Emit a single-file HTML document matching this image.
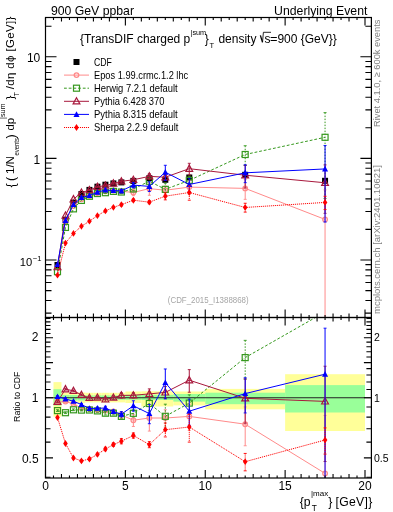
<!DOCTYPE html><html><head><meta charset="utf-8"><style>html,body{margin:0;padding:0;background:#fff;}svg{display:block;will-change:transform;}</style></head><body><svg width="393" height="512" viewBox="0 0 393 512" font-family='"Liberation Sans", sans-serif'><rect width="393" height="512" fill="#fff"/><rect x="53.49" y="382.10" width="7.99" height="34.60" fill="#ffff99"/><rect x="61.48" y="392.50" width="7.99" height="10.50" fill="#ffff99"/><rect x="69.46" y="392.50" width="7.99" height="10.50" fill="#ffff99"/><rect x="77.45" y="392.50" width="7.99" height="10.50" fill="#ffff99"/><rect x="85.44" y="392.80" width="7.99" height="9.60" fill="#ffff99"/><rect x="93.42" y="392.80" width="7.99" height="9.60" fill="#ffff99"/><rect x="101.41" y="392.80" width="7.99" height="9.60" fill="#ffff99"/><rect x="109.40" y="392.80" width="7.99" height="9.60" fill="#ffff99"/><rect x="117.39" y="392.80" width="7.99" height="9.60" fill="#ffff99"/><rect x="125.38" y="391.50" width="15.97" height="11.50" fill="#ffff99"/><rect x="141.35" y="391.30" width="15.97" height="15.20" fill="#ffff99"/><rect x="157.32" y="391.30" width="15.98" height="15.20" fill="#ffff99"/><rect x="173.30" y="391.50" width="31.95" height="13.90" fill="#ffff99"/><rect x="205.25" y="388.90" width="79.88" height="20.40" fill="#ffff99"/><rect x="285.12" y="374.20" width="79.88" height="56.80" fill="#ffff99"/><rect x="53.49" y="389.20" width="7.99" height="16.30" fill="#99ff99"/><rect x="61.48" y="395.00" width="7.99" height="5.50" fill="#99ff99"/><rect x="69.46" y="395.00" width="7.99" height="5.50" fill="#99ff99"/><rect x="77.45" y="395.00" width="7.99" height="5.50" fill="#99ff99"/><rect x="85.44" y="395.40" width="7.99" height="4.40" fill="#99ff99"/><rect x="93.42" y="395.40" width="7.99" height="4.40" fill="#99ff99"/><rect x="101.41" y="395.40" width="7.99" height="4.40" fill="#99ff99"/><rect x="109.40" y="395.40" width="7.99" height="4.40" fill="#99ff99"/><rect x="117.39" y="395.40" width="7.99" height="4.40" fill="#99ff99"/><rect x="125.38" y="394.80" width="15.97" height="5.00" fill="#99ff99"/><rect x="141.35" y="394.80" width="15.97" height="5.20" fill="#99ff99"/><rect x="157.32" y="394.80" width="15.98" height="5.20" fill="#99ff99"/><rect x="173.30" y="394.00" width="31.95" height="7.60" fill="#99ff99"/><rect x="205.25" y="392.70" width="79.88" height="11.50" fill="#99ff99"/><rect x="285.12" y="385.10" width="79.88" height="27.40" fill="#99ff99"/><line x1="45.5" y1="397.7" x2="371.4" y2="397.7" stroke="#222" stroke-width="1.1"/><defs><clipPath id="cm"><rect x="45.5" y="17.5" width="325.9" height="300"/></clipPath><clipPath id="cr"><rect x="45.5" y="317.5" width="325.9" height="160.5"/></clipPath></defs><g clip-path="url(#cm)"><rect x="54.48" y="262.00" width="6" height="6" fill="#000"/><rect x="62.47" y="216.70" width="6" height="6" fill="#000"/><rect x="70.46" y="199.60" width="6" height="6" fill="#000"/><rect x="78.44" y="191.00" width="6" height="6" fill="#000"/><rect x="86.43" y="186.90" width="6" height="6" fill="#000"/><rect x="94.42" y="183.70" width="6" height="6" fill="#000"/><rect x="102.41" y="181.70" width="6" height="6" fill="#000"/><rect x="110.39" y="180.40" width="6" height="6" fill="#000"/><rect x="118.38" y="179.40" width="6" height="6" fill="#000"/><rect x="130.36" y="177.90" width="6" height="6" fill="#000"/><rect x="146.34" y="175.20" width="6" height="6" fill="#000"/><rect x="162.31" y="176.80" width="6" height="6" fill="#000"/><rect x="186.28" y="174.50" width="6" height="6" fill="#000"/><rect x="242.19" y="171.80" width="6" height="6" fill="#000"/><rect x="322.06" y="177.80" width="6" height="6" fill="#000"/><path d="M57.48,267.29 L65.47,221.74 L73.46,205.91 L81.44,199.34 L89.43,195.75 L97.42,193.06 L105.41,191.31 L113.39,190.52 L121.38,191.30 L133.36,192.45 L149.34,188.63 L165.31,190.23 L189.28,187.12 L245.19,188.38 L325.06,219.42" fill="none" stroke="#ff8a8a" stroke-width="1"/><line x1="89.43" y1="195.09" x2="89.43" y2="196.42" stroke="#ff8a8a" stroke-width="1"/><line x1="87.93" y1="195.09" x2="90.93" y2="195.09" stroke="#ff8a8a" stroke-width="0.9"/><line x1="87.93" y1="196.42" x2="90.93" y2="196.42" stroke="#ff8a8a" stroke-width="0.9"/><line x1="97.42" y1="192.40" x2="97.42" y2="193.73" stroke="#ff8a8a" stroke-width="1"/><line x1="95.92" y1="192.40" x2="98.92" y2="192.40" stroke="#ff8a8a" stroke-width="0.9"/><line x1="95.92" y1="193.73" x2="98.92" y2="193.73" stroke="#ff8a8a" stroke-width="0.9"/><line x1="105.41" y1="190.44" x2="105.41" y2="192.21" stroke="#ff8a8a" stroke-width="1"/><line x1="103.91" y1="190.44" x2="106.91" y2="190.44" stroke="#ff8a8a" stroke-width="0.9"/><line x1="103.91" y1="192.21" x2="106.91" y2="192.21" stroke="#ff8a8a" stroke-width="0.9"/><line x1="113.39" y1="189.65" x2="113.39" y2="191.41" stroke="#ff8a8a" stroke-width="1"/><line x1="111.89" y1="189.65" x2="114.89" y2="189.65" stroke="#ff8a8a" stroke-width="0.9"/><line x1="111.89" y1="191.41" x2="114.89" y2="191.41" stroke="#ff8a8a" stroke-width="0.9"/><line x1="121.38" y1="189.57" x2="121.38" y2="193.10" stroke="#ff8a8a" stroke-width="1"/><line x1="119.88" y1="189.57" x2="122.88" y2="189.57" stroke="#ff8a8a" stroke-width="0.9"/><line x1="119.88" y1="193.10" x2="122.88" y2="193.10" stroke="#ff8a8a" stroke-width="0.9"/><line x1="133.36" y1="189.46" x2="133.36" y2="195.65" stroke="#ff8a8a" stroke-width="1"/><line x1="131.86" y1="189.46" x2="134.86" y2="189.46" stroke="#ff8a8a" stroke-width="0.9"/><line x1="131.86" y1="195.65" x2="134.86" y2="195.65" stroke="#ff8a8a" stroke-width="0.9"/><line x1="149.34" y1="182.85" x2="149.34" y2="195.28" stroke="#ff8a8a" stroke-width="1"/><line x1="147.84" y1="182.85" x2="150.84" y2="182.85" stroke="#ff8a8a" stroke-width="0.9"/><line x1="147.84" y1="195.28" x2="150.84" y2="195.28" stroke="#ff8a8a" stroke-width="0.9"/><line x1="165.31" y1="186.02" x2="165.31" y2="194.88" stroke="#ff8a8a" stroke-width="1"/><line x1="163.81" y1="186.02" x2="166.81" y2="186.02" stroke="#ff8a8a" stroke-width="0.9"/><line x1="163.81" y1="194.88" x2="166.81" y2="194.88" stroke="#ff8a8a" stroke-width="0.9"/><line x1="189.28" y1="180.95" x2="189.28" y2="194.29" stroke="#ff8a8a" stroke-width="1"/><line x1="187.78" y1="180.95" x2="190.78" y2="180.95" stroke="#ff8a8a" stroke-width="0.9"/><line x1="187.78" y1="194.29" x2="190.78" y2="194.29" stroke="#ff8a8a" stroke-width="0.9"/><line x1="245.19" y1="179.61" x2="245.19" y2="199.35" stroke="#ff8a8a" stroke-width="1"/><line x1="243.69" y1="179.61" x2="246.69" y2="179.61" stroke="#ff8a8a" stroke-width="0.9"/><line x1="243.69" y1="199.35" x2="246.69" y2="199.35" stroke="#ff8a8a" stroke-width="0.9"/><line x1="325.06" y1="189.95" x2="325.06" y2="317.50" stroke="#ff8a8a" stroke-width="1"/><line x1="323.56" y1="189.95" x2="326.56" y2="189.95" stroke="#ff8a8a" stroke-width="0.9"/><circle cx="57.48" cy="267.29" r="2.3" fill="none" stroke="#ff8a8a" stroke-width="1.3"/><circle cx="65.47" cy="221.74" r="2.3" fill="none" stroke="#ff8a8a" stroke-width="1.3"/><circle cx="73.46" cy="205.91" r="2.3" fill="none" stroke="#ff8a8a" stroke-width="1.3"/><circle cx="81.44" cy="199.34" r="2.3" fill="none" stroke="#ff8a8a" stroke-width="1.3"/><circle cx="89.43" cy="195.75" r="2.3" fill="none" stroke="#ff8a8a" stroke-width="1.3"/><circle cx="97.42" cy="193.06" r="2.3" fill="none" stroke="#ff8a8a" stroke-width="1.3"/><circle cx="105.41" cy="191.31" r="2.3" fill="none" stroke="#ff8a8a" stroke-width="1.3"/><circle cx="113.39" cy="190.52" r="2.3" fill="none" stroke="#ff8a8a" stroke-width="1.3"/><circle cx="121.38" cy="191.30" r="2.3" fill="none" stroke="#ff8a8a" stroke-width="1.3"/><circle cx="133.36" cy="192.45" r="2.3" fill="none" stroke="#ff8a8a" stroke-width="1.3"/><circle cx="149.34" cy="188.63" r="2.3" fill="none" stroke="#ff8a8a" stroke-width="1.3"/><circle cx="165.31" cy="190.23" r="2.3" fill="none" stroke="#ff8a8a" stroke-width="1.3"/><circle cx="189.28" cy="187.12" r="2.3" fill="none" stroke="#ff8a8a" stroke-width="1.3"/><circle cx="245.19" cy="188.38" r="2.3" fill="none" stroke="#ff8a8a" stroke-width="1.3"/><circle cx="325.06" cy="219.42" r="2.3" fill="none" stroke="#ff8a8a" stroke-width="1.3"/><path d="M57.48,271.66 L65.47,227.43 L73.46,208.86 L81.44,200.41 L89.43,196.26 L97.42,193.52 L105.41,192.69 L113.39,191.39 L121.38,192.02 L133.36,188.94 L149.34,181.25 L165.31,189.36 L189.28,180.35 L245.19,154.50 L325.06,137.30" fill="none" stroke="#36981e" stroke-width="1" stroke-dasharray="2.8,1.9"/><line x1="89.43" y1="195.60" x2="89.43" y2="196.93" stroke="#36981e" stroke-width="1" stroke-dasharray="1.5,1.5"/><line x1="87.93" y1="195.60" x2="90.93" y2="195.60" stroke="#36981e" stroke-width="0.9"/><line x1="87.93" y1="196.93" x2="90.93" y2="196.93" stroke="#36981e" stroke-width="0.9"/><line x1="97.42" y1="192.86" x2="97.42" y2="194.18" stroke="#36981e" stroke-width="1" stroke-dasharray="1.5,1.5"/><line x1="95.92" y1="192.86" x2="98.92" y2="192.86" stroke="#36981e" stroke-width="0.9"/><line x1="95.92" y1="194.18" x2="98.92" y2="194.18" stroke="#36981e" stroke-width="0.9"/><line x1="105.41" y1="191.81" x2="105.41" y2="193.58" stroke="#36981e" stroke-width="1" stroke-dasharray="1.5,1.5"/><line x1="103.91" y1="191.81" x2="106.91" y2="191.81" stroke="#36981e" stroke-width="0.9"/><line x1="103.91" y1="193.58" x2="106.91" y2="193.58" stroke="#36981e" stroke-width="0.9"/><line x1="113.39" y1="190.51" x2="113.39" y2="192.28" stroke="#36981e" stroke-width="1" stroke-dasharray="1.5,1.5"/><line x1="111.89" y1="190.51" x2="114.89" y2="190.51" stroke="#36981e" stroke-width="0.9"/><line x1="111.89" y1="192.28" x2="114.89" y2="192.28" stroke="#36981e" stroke-width="0.9"/><line x1="121.38" y1="190.71" x2="121.38" y2="193.36" stroke="#36981e" stroke-width="1" stroke-dasharray="1.5,1.5"/><line x1="119.88" y1="190.71" x2="122.88" y2="190.71" stroke="#36981e" stroke-width="0.9"/><line x1="119.88" y1="193.36" x2="122.88" y2="193.36" stroke="#36981e" stroke-width="0.9"/><line x1="133.36" y1="187.21" x2="133.36" y2="190.74" stroke="#36981e" stroke-width="1" stroke-dasharray="1.5,1.5"/><line x1="131.86" y1="187.21" x2="134.86" y2="187.21" stroke="#36981e" stroke-width="0.9"/><line x1="131.86" y1="190.74" x2="134.86" y2="190.74" stroke="#36981e" stroke-width="0.9"/><line x1="149.34" y1="177.86" x2="149.34" y2="184.93" stroke="#36981e" stroke-width="1" stroke-dasharray="1.5,1.5"/><line x1="147.84" y1="177.86" x2="150.84" y2="177.86" stroke="#36981e" stroke-width="0.9"/><line x1="147.84" y1="184.93" x2="150.84" y2="184.93" stroke="#36981e" stroke-width="0.9"/><line x1="165.31" y1="183.20" x2="165.31" y2="196.54" stroke="#36981e" stroke-width="1" stroke-dasharray="1.5,1.5"/><line x1="163.81" y1="183.20" x2="166.81" y2="183.20" stroke="#36981e" stroke-width="0.9"/><line x1="163.81" y1="196.54" x2="166.81" y2="196.54" stroke="#36981e" stroke-width="0.9"/><line x1="189.28" y1="176.14" x2="189.28" y2="185.00" stroke="#36981e" stroke-width="1" stroke-dasharray="1.5,1.5"/><line x1="187.78" y1="176.14" x2="190.78" y2="176.14" stroke="#36981e" stroke-width="0.9"/><line x1="187.78" y1="185.00" x2="190.78" y2="185.00" stroke="#36981e" stroke-width="0.9"/><line x1="245.19" y1="145.73" x2="245.19" y2="165.46" stroke="#36981e" stroke-width="1" stroke-dasharray="1.5,1.5"/><line x1="243.69" y1="145.73" x2="246.69" y2="145.73" stroke="#36981e" stroke-width="0.9"/><line x1="243.69" y1="165.46" x2="246.69" y2="165.46" stroke="#36981e" stroke-width="0.9"/><line x1="325.06" y1="112.61" x2="325.06" y2="198.47" stroke="#36981e" stroke-width="1" stroke-dasharray="1.5,1.5"/><line x1="323.56" y1="112.61" x2="326.56" y2="112.61" stroke="#36981e" stroke-width="0.9"/><line x1="323.56" y1="198.47" x2="326.56" y2="198.47" stroke="#36981e" stroke-width="0.9"/><rect x="54.48" y="268.66" width="6" height="6" fill="none" stroke="#36981e" stroke-width="1.2"/><rect x="62.47" y="224.43" width="6" height="6" fill="none" stroke="#36981e" stroke-width="1.2"/><rect x="70.46" y="205.86" width="6" height="6" fill="none" stroke="#36981e" stroke-width="1.2"/><rect x="78.44" y="197.41" width="6" height="6" fill="none" stroke="#36981e" stroke-width="1.2"/><rect x="86.43" y="193.26" width="6" height="6" fill="none" stroke="#36981e" stroke-width="1.2"/><rect x="94.42" y="190.52" width="6" height="6" fill="none" stroke="#36981e" stroke-width="1.2"/><rect x="102.41" y="189.69" width="6" height="6" fill="none" stroke="#36981e" stroke-width="1.2"/><rect x="110.39" y="188.39" width="6" height="6" fill="none" stroke="#36981e" stroke-width="1.2"/><rect x="118.38" y="189.02" width="6" height="6" fill="none" stroke="#36981e" stroke-width="1.2"/><rect x="130.36" y="185.94" width="6" height="6" fill="none" stroke="#36981e" stroke-width="1.2"/><rect x="146.34" y="178.25" width="6" height="6" fill="none" stroke="#36981e" stroke-width="1.2"/><rect x="162.31" y="186.36" width="6" height="6" fill="none" stroke="#36981e" stroke-width="1.2"/><rect x="186.28" y="177.35" width="6" height="6" fill="none" stroke="#36981e" stroke-width="1.2"/><rect x="242.19" y="151.50" width="6" height="6" fill="none" stroke="#36981e" stroke-width="1.2"/><rect x="322.06" y="134.30" width="6" height="6" fill="none" stroke="#36981e" stroke-width="1.2"/><path d="M57.48,267.14 L65.47,215.48 L73.46,199.19 L81.44,192.63 L89.43,190.10 L97.42,186.75 L105.41,185.67 L113.39,183.45 L121.38,181.33 L133.36,179.78 L149.34,176.37 L165.31,177.21 L189.28,168.70 L245.19,175.21 L325.06,182.78" fill="none" stroke="#a8183c" stroke-width="1"/><line x1="89.43" y1="189.45" x2="89.43" y2="190.77" stroke="#a8183c" stroke-width="1"/><line x1="87.93" y1="189.45" x2="90.93" y2="189.45" stroke="#a8183c" stroke-width="0.9"/><line x1="87.93" y1="190.77" x2="90.93" y2="190.77" stroke="#a8183c" stroke-width="0.9"/><line x1="97.42" y1="186.09" x2="97.42" y2="187.42" stroke="#a8183c" stroke-width="1"/><line x1="95.92" y1="186.09" x2="98.92" y2="186.09" stroke="#a8183c" stroke-width="0.9"/><line x1="95.92" y1="187.42" x2="98.92" y2="187.42" stroke="#a8183c" stroke-width="0.9"/><line x1="105.41" y1="184.79" x2="105.41" y2="186.56" stroke="#a8183c" stroke-width="1"/><line x1="103.91" y1="184.79" x2="106.91" y2="184.79" stroke="#a8183c" stroke-width="0.9"/><line x1="103.91" y1="186.56" x2="106.91" y2="186.56" stroke="#a8183c" stroke-width="0.9"/><line x1="113.39" y1="182.58" x2="113.39" y2="184.34" stroke="#a8183c" stroke-width="1"/><line x1="111.89" y1="182.58" x2="114.89" y2="182.58" stroke="#a8183c" stroke-width="0.9"/><line x1="111.89" y1="184.34" x2="114.89" y2="184.34" stroke="#a8183c" stroke-width="0.9"/><line x1="121.38" y1="180.03" x2="121.38" y2="182.68" stroke="#a8183c" stroke-width="1"/><line x1="119.88" y1="180.03" x2="122.88" y2="180.03" stroke="#a8183c" stroke-width="0.9"/><line x1="119.88" y1="182.68" x2="122.88" y2="182.68" stroke="#a8183c" stroke-width="0.9"/><line x1="133.36" y1="178.48" x2="133.36" y2="181.12" stroke="#a8183c" stroke-width="1"/><line x1="131.86" y1="178.48" x2="134.86" y2="178.48" stroke="#a8183c" stroke-width="0.9"/><line x1="131.86" y1="181.12" x2="134.86" y2="181.12" stroke="#a8183c" stroke-width="0.9"/><line x1="149.34" y1="173.80" x2="149.34" y2="179.10" stroke="#a8183c" stroke-width="1"/><line x1="147.84" y1="173.80" x2="150.84" y2="173.80" stroke="#a8183c" stroke-width="0.9"/><line x1="147.84" y1="179.10" x2="150.84" y2="179.10" stroke="#a8183c" stroke-width="0.9"/><line x1="165.31" y1="174.22" x2="165.31" y2="180.41" stroke="#a8183c" stroke-width="1"/><line x1="163.81" y1="174.22" x2="166.81" y2="174.22" stroke="#a8183c" stroke-width="0.9"/><line x1="163.81" y1="180.41" x2="166.81" y2="180.41" stroke="#a8183c" stroke-width="0.9"/><line x1="189.28" y1="163.31" x2="189.28" y2="174.84" stroke="#a8183c" stroke-width="1"/><line x1="187.78" y1="163.31" x2="190.78" y2="163.31" stroke="#a8183c" stroke-width="0.9"/><line x1="187.78" y1="174.84" x2="190.78" y2="174.84" stroke="#a8183c" stroke-width="0.9"/><line x1="245.19" y1="165.36" x2="245.19" y2="187.90" stroke="#a8183c" stroke-width="1"/><line x1="243.69" y1="165.36" x2="246.69" y2="165.36" stroke="#a8183c" stroke-width="0.9"/><line x1="243.69" y1="187.90" x2="246.69" y2="187.90" stroke="#a8183c" stroke-width="0.9"/><line x1="325.06" y1="164.89" x2="325.06" y2="213.37" stroke="#a8183c" stroke-width="1"/><line x1="323.56" y1="164.89" x2="326.56" y2="164.89" stroke="#a8183c" stroke-width="0.9"/><line x1="323.56" y1="213.37" x2="326.56" y2="213.37" stroke="#a8183c" stroke-width="0.9"/><path d="M57.48,263.54 L60.88,269.74 L54.08,269.74 Z" fill="none" stroke="#a8183c" stroke-width="1.2"/><path d="M65.47,211.88 L68.87,218.08 L62.07,218.08 Z" fill="none" stroke="#a8183c" stroke-width="1.2"/><path d="M73.46,195.59 L76.86,201.79 L70.06,201.79 Z" fill="none" stroke="#a8183c" stroke-width="1.2"/><path d="M81.44,189.03 L84.84,195.23 L78.04,195.23 Z" fill="none" stroke="#a8183c" stroke-width="1.2"/><path d="M89.43,186.50 L92.83,192.70 L86.03,192.70 Z" fill="none" stroke="#a8183c" stroke-width="1.2"/><path d="M97.42,183.15 L100.82,189.35 L94.02,189.35 Z" fill="none" stroke="#a8183c" stroke-width="1.2"/><path d="M105.41,182.07 L108.81,188.27 L102.01,188.27 Z" fill="none" stroke="#a8183c" stroke-width="1.2"/><path d="M113.39,179.85 L116.79,186.05 L109.99,186.05 Z" fill="none" stroke="#a8183c" stroke-width="1.2"/><path d="M121.38,177.73 L124.78,183.93 L117.98,183.93 Z" fill="none" stroke="#a8183c" stroke-width="1.2"/><path d="M133.36,176.18 L136.76,182.38 L129.96,182.38 Z" fill="none" stroke="#a8183c" stroke-width="1.2"/><path d="M149.34,172.77 L152.74,178.97 L145.94,178.97 Z" fill="none" stroke="#a8183c" stroke-width="1.2"/><path d="M165.31,173.61 L168.71,179.81 L161.91,179.81 Z" fill="none" stroke="#a8183c" stroke-width="1.2"/><path d="M189.28,165.10 L192.68,171.30 L185.88,171.30 Z" fill="none" stroke="#a8183c" stroke-width="1.2"/><path d="M245.19,171.61 L248.59,177.81 L241.79,177.81 Z" fill="none" stroke="#a8183c" stroke-width="1.2"/><path d="M325.06,179.18 L328.46,185.38 L321.66,185.38 Z" fill="none" stroke="#a8183c" stroke-width="1.2"/><path d="M57.48,264.54 L65.47,220.41 L73.46,204.53 L81.44,197.56 L89.43,195.50 L97.42,192.19 L105.41,190.04 L113.39,190.57 L121.38,190.90 L133.36,185.12 L149.34,186.39 L165.31,172.22 L189.28,184.47 L245.19,172.82 L325.06,168.95" fill="none" stroke="#0000ff" stroke-width="1"/><line x1="89.43" y1="194.84" x2="89.43" y2="196.16" stroke="#0000ff" stroke-width="1"/><line x1="87.93" y1="194.84" x2="90.93" y2="194.84" stroke="#0000ff" stroke-width="0.9"/><line x1="87.93" y1="196.16" x2="90.93" y2="196.16" stroke="#0000ff" stroke-width="0.9"/><line x1="97.42" y1="191.54" x2="97.42" y2="192.86" stroke="#0000ff" stroke-width="1"/><line x1="95.92" y1="191.54" x2="98.92" y2="191.54" stroke="#0000ff" stroke-width="0.9"/><line x1="95.92" y1="192.86" x2="98.92" y2="192.86" stroke="#0000ff" stroke-width="0.9"/><line x1="105.41" y1="189.17" x2="105.41" y2="190.93" stroke="#0000ff" stroke-width="1"/><line x1="103.91" y1="189.17" x2="106.91" y2="189.17" stroke="#0000ff" stroke-width="0.9"/><line x1="103.91" y1="190.93" x2="106.91" y2="190.93" stroke="#0000ff" stroke-width="0.9"/><line x1="113.39" y1="189.70" x2="113.39" y2="191.46" stroke="#0000ff" stroke-width="1"/><line x1="111.89" y1="189.70" x2="114.89" y2="189.70" stroke="#0000ff" stroke-width="0.9"/><line x1="111.89" y1="191.46" x2="114.89" y2="191.46" stroke="#0000ff" stroke-width="0.9"/><line x1="121.38" y1="189.59" x2="121.38" y2="192.24" stroke="#0000ff" stroke-width="1"/><line x1="119.88" y1="189.59" x2="122.88" y2="189.59" stroke="#0000ff" stroke-width="0.9"/><line x1="119.88" y1="192.24" x2="122.88" y2="192.24" stroke="#0000ff" stroke-width="0.9"/><line x1="133.36" y1="182.55" x2="133.36" y2="187.85" stroke="#0000ff" stroke-width="1"/><line x1="131.86" y1="182.55" x2="134.86" y2="182.55" stroke="#0000ff" stroke-width="0.9"/><line x1="131.86" y1="187.85" x2="134.86" y2="187.85" stroke="#0000ff" stroke-width="0.9"/><line x1="149.34" y1="181.79" x2="149.34" y2="191.53" stroke="#0000ff" stroke-width="1"/><line x1="147.84" y1="181.79" x2="150.84" y2="181.79" stroke="#0000ff" stroke-width="0.9"/><line x1="147.84" y1="191.53" x2="150.84" y2="191.53" stroke="#0000ff" stroke-width="0.9"/><line x1="165.31" y1="165.29" x2="165.31" y2="180.44" stroke="#0000ff" stroke-width="1"/><line x1="163.81" y1="165.29" x2="166.81" y2="165.29" stroke="#0000ff" stroke-width="0.9"/><line x1="163.81" y1="180.44" x2="166.81" y2="180.44" stroke="#0000ff" stroke-width="0.9"/><line x1="189.28" y1="178.30" x2="189.28" y2="191.64" stroke="#0000ff" stroke-width="1"/><line x1="187.78" y1="178.30" x2="190.78" y2="178.30" stroke="#0000ff" stroke-width="0.9"/><line x1="187.78" y1="191.64" x2="190.78" y2="191.64" stroke="#0000ff" stroke-width="0.9"/><line x1="245.19" y1="164.77" x2="245.19" y2="182.66" stroke="#0000ff" stroke-width="1"/><line x1="243.69" y1="164.77" x2="246.69" y2="164.77" stroke="#0000ff" stroke-width="0.9"/><line x1="243.69" y1="182.66" x2="246.69" y2="182.66" stroke="#0000ff" stroke-width="0.9"/><line x1="325.06" y1="145.53" x2="325.06" y2="222.07" stroke="#0000ff" stroke-width="1"/><line x1="323.56" y1="145.53" x2="326.56" y2="145.53" stroke="#0000ff" stroke-width="0.9"/><line x1="323.56" y1="222.07" x2="326.56" y2="222.07" stroke="#0000ff" stroke-width="0.9"/><path d="M57.48,261.34 L60.48,267.04 L54.48,267.04 Z" fill="#0000ff"/><path d="M65.47,217.21 L68.47,222.91 L62.47,222.91 Z" fill="#0000ff"/><path d="M73.46,201.33 L76.46,207.03 L70.46,207.03 Z" fill="#0000ff"/><path d="M81.44,194.36 L84.44,200.06 L78.44,200.06 Z" fill="#0000ff"/><path d="M89.43,192.30 L92.43,198.00 L86.43,198.00 Z" fill="#0000ff"/><path d="M97.42,188.99 L100.42,194.69 L94.42,194.69 Z" fill="#0000ff"/><path d="M105.41,186.84 L108.41,192.54 L102.41,192.54 Z" fill="#0000ff"/><path d="M113.39,187.37 L116.39,193.07 L110.39,193.07 Z" fill="#0000ff"/><path d="M121.38,187.70 L124.38,193.40 L118.38,193.40 Z" fill="#0000ff"/><path d="M133.36,181.92 L136.36,187.62 L130.36,187.62 Z" fill="#0000ff"/><path d="M149.34,183.19 L152.34,188.89 L146.34,188.89 Z" fill="#0000ff"/><path d="M165.31,169.02 L168.31,174.72 L162.31,174.72 Z" fill="#0000ff"/><path d="M189.28,181.27 L192.28,186.97 L186.28,186.97 Z" fill="#0000ff"/><path d="M245.19,169.62 L248.19,175.32 L242.19,175.32 Z" fill="#0000ff"/><path d="M325.06,165.75 L328.06,171.45 L322.06,171.45 Z" fill="#0000ff"/><path d="M57.48,275.18 L65.47,243.10 L73.46,233.38 L81.44,226.26 L89.43,221.19 L97.42,215.65 L105.41,210.90 L113.39,207.36 L121.38,204.63 L133.36,200.23 L149.34,202.16 L165.31,196.18 L189.28,192.51 L245.19,207.46 L325.06,202.42" fill="none" stroke="#ff0000" stroke-width="1" stroke-dasharray="1.1,0.9"/><line x1="89.43" y1="220.53" x2="89.43" y2="221.86" stroke="#ff0000" stroke-width="1" stroke-dasharray="1.1,0.9"/><line x1="87.93" y1="220.53" x2="90.93" y2="220.53" stroke="#ff0000" stroke-width="0.9"/><line x1="87.93" y1="221.86" x2="90.93" y2="221.86" stroke="#ff0000" stroke-width="0.9"/><line x1="97.42" y1="214.99" x2="97.42" y2="216.32" stroke="#ff0000" stroke-width="1" stroke-dasharray="1.1,0.9"/><line x1="95.92" y1="214.99" x2="98.92" y2="214.99" stroke="#ff0000" stroke-width="0.9"/><line x1="95.92" y1="216.32" x2="98.92" y2="216.32" stroke="#ff0000" stroke-width="0.9"/><line x1="105.41" y1="210.03" x2="105.41" y2="211.79" stroke="#ff0000" stroke-width="1" stroke-dasharray="1.1,0.9"/><line x1="103.91" y1="210.03" x2="106.91" y2="210.03" stroke="#ff0000" stroke-width="0.9"/><line x1="103.91" y1="211.79" x2="106.91" y2="211.79" stroke="#ff0000" stroke-width="0.9"/><line x1="113.39" y1="206.49" x2="113.39" y2="208.25" stroke="#ff0000" stroke-width="1" stroke-dasharray="1.1,0.9"/><line x1="111.89" y1="206.49" x2="114.89" y2="206.49" stroke="#ff0000" stroke-width="0.9"/><line x1="111.89" y1="208.25" x2="114.89" y2="208.25" stroke="#ff0000" stroke-width="0.9"/><line x1="121.38" y1="203.33" x2="121.38" y2="205.98" stroke="#ff0000" stroke-width="1" stroke-dasharray="1.1,0.9"/><line x1="119.88" y1="203.33" x2="122.88" y2="203.33" stroke="#ff0000" stroke-width="0.9"/><line x1="119.88" y1="205.98" x2="122.88" y2="205.98" stroke="#ff0000" stroke-width="0.9"/><line x1="133.36" y1="198.93" x2="133.36" y2="201.58" stroke="#ff0000" stroke-width="1" stroke-dasharray="1.1,0.9"/><line x1="131.86" y1="198.93" x2="134.86" y2="198.93" stroke="#ff0000" stroke-width="0.9"/><line x1="131.86" y1="201.58" x2="134.86" y2="201.58" stroke="#ff0000" stroke-width="0.9"/><line x1="149.34" y1="200.64" x2="149.34" y2="203.73" stroke="#ff0000" stroke-width="1" stroke-dasharray="1.1,0.9"/><line x1="147.84" y1="200.64" x2="150.84" y2="200.64" stroke="#ff0000" stroke-width="0.9"/><line x1="147.84" y1="203.73" x2="150.84" y2="203.73" stroke="#ff0000" stroke-width="0.9"/><line x1="165.31" y1="192.79" x2="165.31" y2="199.86" stroke="#ff0000" stroke-width="1" stroke-dasharray="1.1,0.9"/><line x1="163.81" y1="192.79" x2="166.81" y2="192.79" stroke="#ff0000" stroke-width="0.9"/><line x1="163.81" y1="199.86" x2="166.81" y2="199.86" stroke="#ff0000" stroke-width="0.9"/><line x1="189.28" y1="185.96" x2="189.28" y2="200.20" stroke="#ff0000" stroke-width="1" stroke-dasharray="1.1,0.9"/><line x1="187.78" y1="185.96" x2="190.78" y2="185.96" stroke="#ff0000" stroke-width="0.9"/><line x1="187.78" y1="200.20" x2="190.78" y2="200.20" stroke="#ff0000" stroke-width="0.9"/><line x1="245.19" y1="203.26" x2="245.19" y2="212.11" stroke="#ff0000" stroke-width="1" stroke-dasharray="1.1,0.9"/><line x1="243.69" y1="203.26" x2="246.69" y2="203.26" stroke="#ff0000" stroke-width="0.9"/><line x1="243.69" y1="212.11" x2="246.69" y2="212.11" stroke="#ff0000" stroke-width="0.9"/><line x1="325.06" y1="196.26" x2="325.06" y2="209.59" stroke="#ff0000" stroke-width="1" stroke-dasharray="1.1,0.9"/><line x1="323.56" y1="196.26" x2="326.56" y2="196.26" stroke="#ff0000" stroke-width="0.9"/><line x1="323.56" y1="209.59" x2="326.56" y2="209.59" stroke="#ff0000" stroke-width="0.9"/><path d="M57.48,271.78 L59.78,275.18 L57.48,278.58 L55.18,275.18 Z" fill="#ff0000"/><path d="M65.47,239.70 L67.77,243.10 L65.47,246.50 L63.17,243.10 Z" fill="#ff0000"/><path d="M73.46,229.98 L75.76,233.38 L73.46,236.78 L71.16,233.38 Z" fill="#ff0000"/><path d="M81.44,222.86 L83.74,226.26 L81.44,229.66 L79.14,226.26 Z" fill="#ff0000"/><path d="M89.43,217.79 L91.73,221.19 L89.43,224.59 L87.13,221.19 Z" fill="#ff0000"/><path d="M97.42,212.25 L99.72,215.65 L97.42,219.05 L95.12,215.65 Z" fill="#ff0000"/><path d="M105.41,207.50 L107.71,210.90 L105.41,214.30 L103.11,210.90 Z" fill="#ff0000"/><path d="M113.39,203.96 L115.69,207.36 L113.39,210.76 L111.09,207.36 Z" fill="#ff0000"/><path d="M121.38,201.23 L123.68,204.63 L121.38,208.03 L119.08,204.63 Z" fill="#ff0000"/><path d="M133.36,196.83 L135.66,200.23 L133.36,203.63 L131.06,200.23 Z" fill="#ff0000"/><path d="M149.34,198.76 L151.64,202.16 L149.34,205.56 L147.04,202.16 Z" fill="#ff0000"/><path d="M165.31,192.78 L167.61,196.18 L165.31,199.58 L163.01,196.18 Z" fill="#ff0000"/><path d="M189.28,189.11 L191.58,192.51 L189.28,195.91 L186.97,192.51 Z" fill="#ff0000"/><path d="M245.19,204.06 L247.49,207.46 L245.19,210.86 L242.89,207.46 Z" fill="#ff0000"/><path d="M325.06,199.02 L327.36,202.42 L325.06,205.82 L322.76,202.42 Z" fill="#ff0000"/></g><g clip-path="url(#cr)"><path d="M57.48,402.00 L65.47,401.50 L73.46,404.00 L81.44,408.00 L89.43,409.00 L97.42,410.00 L105.41,410.50 L113.39,411.50 L121.38,415.00 L133.36,420.20 L149.34,418.00 L165.31,418.00 L189.28,416.40 L245.19,424.20 L325.06,473.40" fill="none" stroke="#ff8a8a" stroke-width="1"/><line x1="57.48" y1="401.14" x2="57.48" y2="402.87" stroke="#ff8a8a" stroke-width="1"/><line x1="55.98" y1="401.14" x2="58.98" y2="401.14" stroke="#ff8a8a" stroke-width="0.9"/><line x1="55.98" y1="402.87" x2="58.98" y2="402.87" stroke="#ff8a8a" stroke-width="0.9"/><line x1="65.47" y1="400.64" x2="65.47" y2="402.37" stroke="#ff8a8a" stroke-width="1"/><line x1="63.97" y1="400.64" x2="66.97" y2="400.64" stroke="#ff8a8a" stroke-width="0.9"/><line x1="63.97" y1="402.37" x2="66.97" y2="402.37" stroke="#ff8a8a" stroke-width="0.9"/><line x1="73.46" y1="403.14" x2="73.46" y2="404.87" stroke="#ff8a8a" stroke-width="1"/><line x1="71.96" y1="403.14" x2="74.96" y2="403.14" stroke="#ff8a8a" stroke-width="0.9"/><line x1="71.96" y1="404.87" x2="74.96" y2="404.87" stroke="#ff8a8a" stroke-width="0.9"/><line x1="81.44" y1="407.14" x2="81.44" y2="408.87" stroke="#ff8a8a" stroke-width="1"/><line x1="79.94" y1="407.14" x2="82.94" y2="407.14" stroke="#ff8a8a" stroke-width="0.9"/><line x1="79.94" y1="408.87" x2="82.94" y2="408.87" stroke="#ff8a8a" stroke-width="0.9"/><line x1="89.43" y1="407.71" x2="89.43" y2="410.31" stroke="#ff8a8a" stroke-width="1"/><line x1="87.93" y1="407.71" x2="90.93" y2="407.71" stroke="#ff8a8a" stroke-width="0.9"/><line x1="87.93" y1="410.31" x2="90.93" y2="410.31" stroke="#ff8a8a" stroke-width="0.9"/><line x1="97.42" y1="408.71" x2="97.42" y2="411.31" stroke="#ff8a8a" stroke-width="1"/><line x1="95.92" y1="408.71" x2="98.92" y2="408.71" stroke="#ff8a8a" stroke-width="0.9"/><line x1="95.92" y1="411.31" x2="98.92" y2="411.31" stroke="#ff8a8a" stroke-width="0.9"/><line x1="105.41" y1="408.78" x2="105.41" y2="412.25" stroke="#ff8a8a" stroke-width="1"/><line x1="103.91" y1="408.78" x2="106.91" y2="408.78" stroke="#ff8a8a" stroke-width="0.9"/><line x1="103.91" y1="412.25" x2="106.91" y2="412.25" stroke="#ff8a8a" stroke-width="0.9"/><line x1="113.39" y1="409.78" x2="113.39" y2="413.25" stroke="#ff8a8a" stroke-width="1"/><line x1="111.89" y1="409.78" x2="114.89" y2="409.78" stroke="#ff8a8a" stroke-width="0.9"/><line x1="111.89" y1="413.25" x2="114.89" y2="413.25" stroke="#ff8a8a" stroke-width="0.9"/><line x1="121.38" y1="411.60" x2="121.38" y2="418.54" stroke="#ff8a8a" stroke-width="1"/><line x1="119.88" y1="411.60" x2="122.88" y2="411.60" stroke="#ff8a8a" stroke-width="0.9"/><line x1="119.88" y1="418.54" x2="122.88" y2="418.54" stroke="#ff8a8a" stroke-width="0.9"/><line x1="133.36" y1="414.33" x2="133.36" y2="426.49" stroke="#ff8a8a" stroke-width="1"/><line x1="131.86" y1="414.33" x2="134.86" y2="414.33" stroke="#ff8a8a" stroke-width="0.9"/><line x1="131.86" y1="426.49" x2="134.86" y2="426.49" stroke="#ff8a8a" stroke-width="0.9"/><line x1="149.34" y1="406.64" x2="149.34" y2="431.08" stroke="#ff8a8a" stroke-width="1"/><line x1="147.84" y1="406.64" x2="150.84" y2="406.64" stroke="#ff8a8a" stroke-width="0.9"/><line x1="147.84" y1="431.08" x2="150.84" y2="431.08" stroke="#ff8a8a" stroke-width="0.9"/><line x1="165.31" y1="409.73" x2="165.31" y2="427.14" stroke="#ff8a8a" stroke-width="1"/><line x1="163.81" y1="409.73" x2="166.81" y2="409.73" stroke="#ff8a8a" stroke-width="0.9"/><line x1="163.81" y1="427.14" x2="166.81" y2="427.14" stroke="#ff8a8a" stroke-width="0.9"/><line x1="189.28" y1="404.28" x2="189.28" y2="430.50" stroke="#ff8a8a" stroke-width="1"/><line x1="187.78" y1="404.28" x2="190.78" y2="404.28" stroke="#ff8a8a" stroke-width="0.9"/><line x1="187.78" y1="430.50" x2="190.78" y2="430.50" stroke="#ff8a8a" stroke-width="0.9"/><line x1="245.19" y1="406.95" x2="245.19" y2="445.75" stroke="#ff8a8a" stroke-width="1"/><line x1="243.69" y1="406.95" x2="246.69" y2="406.95" stroke="#ff8a8a" stroke-width="0.9"/><line x1="243.69" y1="445.75" x2="246.69" y2="445.75" stroke="#ff8a8a" stroke-width="0.9"/><line x1="325.06" y1="415.48" x2="325.06" y2="478.00" stroke="#ff8a8a" stroke-width="1"/><line x1="323.56" y1="415.48" x2="326.56" y2="415.48" stroke="#ff8a8a" stroke-width="0.9"/><circle cx="57.48" cy="402.00" r="2.3" fill="none" stroke="#ff8a8a" stroke-width="1.3"/><circle cx="65.47" cy="401.50" r="2.3" fill="none" stroke="#ff8a8a" stroke-width="1.3"/><circle cx="73.46" cy="404.00" r="2.3" fill="none" stroke="#ff8a8a" stroke-width="1.3"/><circle cx="81.44" cy="408.00" r="2.3" fill="none" stroke="#ff8a8a" stroke-width="1.3"/><circle cx="89.43" cy="409.00" r="2.3" fill="none" stroke="#ff8a8a" stroke-width="1.3"/><circle cx="97.42" cy="410.00" r="2.3" fill="none" stroke="#ff8a8a" stroke-width="1.3"/><circle cx="105.41" cy="410.50" r="2.3" fill="none" stroke="#ff8a8a" stroke-width="1.3"/><circle cx="113.39" cy="411.50" r="2.3" fill="none" stroke="#ff8a8a" stroke-width="1.3"/><circle cx="121.38" cy="415.00" r="2.3" fill="none" stroke="#ff8a8a" stroke-width="1.3"/><circle cx="133.36" cy="420.20" r="2.3" fill="none" stroke="#ff8a8a" stroke-width="1.3"/><circle cx="149.34" cy="418.00" r="2.3" fill="none" stroke="#ff8a8a" stroke-width="1.3"/><circle cx="165.31" cy="418.00" r="2.3" fill="none" stroke="#ff8a8a" stroke-width="1.3"/><circle cx="189.28" cy="416.40" r="2.3" fill="none" stroke="#ff8a8a" stroke-width="1.3"/><circle cx="245.19" cy="424.20" r="2.3" fill="none" stroke="#ff8a8a" stroke-width="1.3"/><circle cx="325.06" cy="473.40" r="2.3" fill="none" stroke="#ff8a8a" stroke-width="1.3"/><path d="M57.48,410.60 L65.47,412.70 L73.46,409.80 L81.44,410.10 L89.43,410.00 L97.42,410.90 L105.41,413.20 L113.39,413.20 L121.38,416.40 L133.36,413.30 L149.34,403.50 L165.31,416.30 L189.28,403.10 L245.19,357.60 L325.06,312.00" fill="none" stroke="#36981e" stroke-width="1" stroke-dasharray="2.8,1.9"/><line x1="57.48" y1="409.74" x2="57.48" y2="411.47" stroke="#36981e" stroke-width="1" stroke-dasharray="1.5,1.5"/><line x1="55.98" y1="409.74" x2="58.98" y2="409.74" stroke="#36981e" stroke-width="0.9"/><line x1="55.98" y1="411.47" x2="58.98" y2="411.47" stroke="#36981e" stroke-width="0.9"/><line x1="65.47" y1="411.84" x2="65.47" y2="413.57" stroke="#36981e" stroke-width="1" stroke-dasharray="1.5,1.5"/><line x1="63.97" y1="411.84" x2="66.97" y2="411.84" stroke="#36981e" stroke-width="0.9"/><line x1="63.97" y1="413.57" x2="66.97" y2="413.57" stroke="#36981e" stroke-width="0.9"/><line x1="73.46" y1="408.94" x2="73.46" y2="410.67" stroke="#36981e" stroke-width="1" stroke-dasharray="1.5,1.5"/><line x1="71.96" y1="408.94" x2="74.96" y2="408.94" stroke="#36981e" stroke-width="0.9"/><line x1="71.96" y1="410.67" x2="74.96" y2="410.67" stroke="#36981e" stroke-width="0.9"/><line x1="81.44" y1="409.24" x2="81.44" y2="410.97" stroke="#36981e" stroke-width="1" stroke-dasharray="1.5,1.5"/><line x1="79.94" y1="409.24" x2="82.94" y2="409.24" stroke="#36981e" stroke-width="0.9"/><line x1="79.94" y1="410.97" x2="82.94" y2="410.97" stroke="#36981e" stroke-width="0.9"/><line x1="89.43" y1="408.71" x2="89.43" y2="411.31" stroke="#36981e" stroke-width="1" stroke-dasharray="1.5,1.5"/><line x1="87.93" y1="408.71" x2="90.93" y2="408.71" stroke="#36981e" stroke-width="0.9"/><line x1="87.93" y1="411.31" x2="90.93" y2="411.31" stroke="#36981e" stroke-width="0.9"/><line x1="97.42" y1="409.61" x2="97.42" y2="412.21" stroke="#36981e" stroke-width="1" stroke-dasharray="1.5,1.5"/><line x1="95.92" y1="409.61" x2="98.92" y2="409.61" stroke="#36981e" stroke-width="0.9"/><line x1="95.92" y1="412.21" x2="98.92" y2="412.21" stroke="#36981e" stroke-width="0.9"/><line x1="105.41" y1="411.48" x2="105.41" y2="414.95" stroke="#36981e" stroke-width="1" stroke-dasharray="1.5,1.5"/><line x1="103.91" y1="411.48" x2="106.91" y2="411.48" stroke="#36981e" stroke-width="0.9"/><line x1="103.91" y1="414.95" x2="106.91" y2="414.95" stroke="#36981e" stroke-width="0.9"/><line x1="113.39" y1="411.48" x2="113.39" y2="414.95" stroke="#36981e" stroke-width="1" stroke-dasharray="1.5,1.5"/><line x1="111.89" y1="411.48" x2="114.89" y2="411.48" stroke="#36981e" stroke-width="0.9"/><line x1="111.89" y1="414.95" x2="114.89" y2="414.95" stroke="#36981e" stroke-width="0.9"/><line x1="121.38" y1="413.84" x2="121.38" y2="419.04" stroke="#36981e" stroke-width="1" stroke-dasharray="1.5,1.5"/><line x1="119.88" y1="413.84" x2="122.88" y2="413.84" stroke="#36981e" stroke-width="0.9"/><line x1="119.88" y1="419.04" x2="122.88" y2="419.04" stroke="#36981e" stroke-width="0.9"/><line x1="133.36" y1="409.90" x2="133.36" y2="416.84" stroke="#36981e" stroke-width="1" stroke-dasharray="1.5,1.5"/><line x1="131.86" y1="409.90" x2="134.86" y2="409.90" stroke="#36981e" stroke-width="0.9"/><line x1="131.86" y1="416.84" x2="134.86" y2="416.84" stroke="#36981e" stroke-width="0.9"/><line x1="149.34" y1="396.83" x2="149.34" y2="410.73" stroke="#36981e" stroke-width="1" stroke-dasharray="1.5,1.5"/><line x1="147.84" y1="396.83" x2="150.84" y2="396.83" stroke="#36981e" stroke-width="0.9"/><line x1="147.84" y1="410.73" x2="150.84" y2="410.73" stroke="#36981e" stroke-width="0.9"/><line x1="165.31" y1="404.18" x2="165.31" y2="430.40" stroke="#36981e" stroke-width="1" stroke-dasharray="1.5,1.5"/><line x1="163.81" y1="404.18" x2="166.81" y2="404.18" stroke="#36981e" stroke-width="0.9"/><line x1="163.81" y1="430.40" x2="166.81" y2="430.40" stroke="#36981e" stroke-width="0.9"/><line x1="189.28" y1="394.83" x2="189.28" y2="412.24" stroke="#36981e" stroke-width="1" stroke-dasharray="1.5,1.5"/><line x1="187.78" y1="394.83" x2="190.78" y2="394.83" stroke="#36981e" stroke-width="0.9"/><line x1="187.78" y1="412.24" x2="190.78" y2="412.24" stroke="#36981e" stroke-width="0.9"/><line x1="245.19" y1="340.35" x2="245.19" y2="379.15" stroke="#36981e" stroke-width="1" stroke-dasharray="1.5,1.5"/><line x1="243.69" y1="340.35" x2="246.69" y2="340.35" stroke="#36981e" stroke-width="0.9"/><line x1="243.69" y1="379.15" x2="246.69" y2="379.15" stroke="#36981e" stroke-width="0.9"/><rect x="54.48" y="407.60" width="6" height="6" fill="none" stroke="#36981e" stroke-width="1.2"/><rect x="62.47" y="409.70" width="6" height="6" fill="none" stroke="#36981e" stroke-width="1.2"/><rect x="70.46" y="406.80" width="6" height="6" fill="none" stroke="#36981e" stroke-width="1.2"/><rect x="78.44" y="407.10" width="6" height="6" fill="none" stroke="#36981e" stroke-width="1.2"/><rect x="86.43" y="407.00" width="6" height="6" fill="none" stroke="#36981e" stroke-width="1.2"/><rect x="94.42" y="407.90" width="6" height="6" fill="none" stroke="#36981e" stroke-width="1.2"/><rect x="102.41" y="410.20" width="6" height="6" fill="none" stroke="#36981e" stroke-width="1.2"/><rect x="110.39" y="410.20" width="6" height="6" fill="none" stroke="#36981e" stroke-width="1.2"/><rect x="118.38" y="413.40" width="6" height="6" fill="none" stroke="#36981e" stroke-width="1.2"/><rect x="130.36" y="410.30" width="6" height="6" fill="none" stroke="#36981e" stroke-width="1.2"/><rect x="146.34" y="400.50" width="6" height="6" fill="none" stroke="#36981e" stroke-width="1.2"/><rect x="162.31" y="413.30" width="6" height="6" fill="none" stroke="#36981e" stroke-width="1.2"/><rect x="186.28" y="400.10" width="6" height="6" fill="none" stroke="#36981e" stroke-width="1.2"/><rect x="242.19" y="354.60" width="6" height="6" fill="none" stroke="#36981e" stroke-width="1.2"/><path d="M57.48,401.70 L65.47,389.20 L73.46,390.80 L81.44,394.80 L89.43,397.90 L97.42,397.60 L105.41,399.40 L113.39,397.60 L121.38,395.40 L133.36,395.30 L149.34,393.90 L165.31,392.40 L189.28,380.20 L245.19,398.30 L325.06,401.40" fill="none" stroke="#a8183c" stroke-width="1"/><line x1="57.48" y1="400.84" x2="57.48" y2="402.57" stroke="#a8183c" stroke-width="1"/><line x1="55.98" y1="400.84" x2="58.98" y2="400.84" stroke="#a8183c" stroke-width="0.9"/><line x1="55.98" y1="402.57" x2="58.98" y2="402.57" stroke="#a8183c" stroke-width="0.9"/><line x1="65.47" y1="388.34" x2="65.47" y2="390.07" stroke="#a8183c" stroke-width="1"/><line x1="63.97" y1="388.34" x2="66.97" y2="388.34" stroke="#a8183c" stroke-width="0.9"/><line x1="63.97" y1="390.07" x2="66.97" y2="390.07" stroke="#a8183c" stroke-width="0.9"/><line x1="73.46" y1="389.94" x2="73.46" y2="391.67" stroke="#a8183c" stroke-width="1"/><line x1="71.96" y1="389.94" x2="74.96" y2="389.94" stroke="#a8183c" stroke-width="0.9"/><line x1="71.96" y1="391.67" x2="74.96" y2="391.67" stroke="#a8183c" stroke-width="0.9"/><line x1="81.44" y1="393.94" x2="81.44" y2="395.67" stroke="#a8183c" stroke-width="1"/><line x1="79.94" y1="393.94" x2="82.94" y2="393.94" stroke="#a8183c" stroke-width="0.9"/><line x1="79.94" y1="395.67" x2="82.94" y2="395.67" stroke="#a8183c" stroke-width="0.9"/><line x1="89.43" y1="396.61" x2="89.43" y2="399.21" stroke="#a8183c" stroke-width="1"/><line x1="87.93" y1="396.61" x2="90.93" y2="396.61" stroke="#a8183c" stroke-width="0.9"/><line x1="87.93" y1="399.21" x2="90.93" y2="399.21" stroke="#a8183c" stroke-width="0.9"/><line x1="97.42" y1="396.31" x2="97.42" y2="398.91" stroke="#a8183c" stroke-width="1"/><line x1="95.92" y1="396.31" x2="98.92" y2="396.31" stroke="#a8183c" stroke-width="0.9"/><line x1="95.92" y1="398.91" x2="98.92" y2="398.91" stroke="#a8183c" stroke-width="0.9"/><line x1="105.41" y1="397.68" x2="105.41" y2="401.15" stroke="#a8183c" stroke-width="1"/><line x1="103.91" y1="397.68" x2="106.91" y2="397.68" stroke="#a8183c" stroke-width="0.9"/><line x1="103.91" y1="401.15" x2="106.91" y2="401.15" stroke="#a8183c" stroke-width="0.9"/><line x1="113.39" y1="395.88" x2="113.39" y2="399.35" stroke="#a8183c" stroke-width="1"/><line x1="111.89" y1="395.88" x2="114.89" y2="395.88" stroke="#a8183c" stroke-width="0.9"/><line x1="111.89" y1="399.35" x2="114.89" y2="399.35" stroke="#a8183c" stroke-width="0.9"/><line x1="121.38" y1="392.84" x2="121.38" y2="398.04" stroke="#a8183c" stroke-width="1"/><line x1="119.88" y1="392.84" x2="122.88" y2="392.84" stroke="#a8183c" stroke-width="0.9"/><line x1="119.88" y1="398.04" x2="122.88" y2="398.04" stroke="#a8183c" stroke-width="0.9"/><line x1="133.36" y1="392.74" x2="133.36" y2="397.94" stroke="#a8183c" stroke-width="1"/><line x1="131.86" y1="392.74" x2="134.86" y2="392.74" stroke="#a8183c" stroke-width="0.9"/><line x1="131.86" y1="397.94" x2="134.86" y2="397.94" stroke="#a8183c" stroke-width="0.9"/><line x1="149.34" y1="388.85" x2="149.34" y2="399.27" stroke="#a8183c" stroke-width="1"/><line x1="147.84" y1="388.85" x2="150.84" y2="388.85" stroke="#a8183c" stroke-width="0.9"/><line x1="147.84" y1="399.27" x2="150.84" y2="399.27" stroke="#a8183c" stroke-width="0.9"/><line x1="165.31" y1="386.53" x2="165.31" y2="398.69" stroke="#a8183c" stroke-width="1"/><line x1="163.81" y1="386.53" x2="166.81" y2="386.53" stroke="#a8183c" stroke-width="0.9"/><line x1="163.81" y1="398.69" x2="166.81" y2="398.69" stroke="#a8183c" stroke-width="0.9"/><line x1="189.28" y1="369.60" x2="189.28" y2="392.28" stroke="#a8183c" stroke-width="1"/><line x1="187.78" y1="369.60" x2="190.78" y2="369.60" stroke="#a8183c" stroke-width="0.9"/><line x1="187.78" y1="392.28" x2="190.78" y2="392.28" stroke="#a8183c" stroke-width="0.9"/><line x1="245.19" y1="378.95" x2="245.19" y2="423.25" stroke="#a8183c" stroke-width="1"/><line x1="243.69" y1="378.95" x2="246.69" y2="378.95" stroke="#a8183c" stroke-width="0.9"/><line x1="243.69" y1="423.25" x2="246.69" y2="423.25" stroke="#a8183c" stroke-width="0.9"/><line x1="325.06" y1="366.23" x2="325.06" y2="461.52" stroke="#a8183c" stroke-width="1"/><line x1="323.56" y1="366.23" x2="326.56" y2="366.23" stroke="#a8183c" stroke-width="0.9"/><line x1="323.56" y1="461.52" x2="326.56" y2="461.52" stroke="#a8183c" stroke-width="0.9"/><path d="M57.48,398.10 L60.88,404.30 L54.08,404.30 Z" fill="none" stroke="#a8183c" stroke-width="1.2"/><path d="M65.47,385.60 L68.87,391.80 L62.07,391.80 Z" fill="none" stroke="#a8183c" stroke-width="1.2"/><path d="M73.46,387.20 L76.86,393.40 L70.06,393.40 Z" fill="none" stroke="#a8183c" stroke-width="1.2"/><path d="M81.44,391.20 L84.84,397.40 L78.04,397.40 Z" fill="none" stroke="#a8183c" stroke-width="1.2"/><path d="M89.43,394.30 L92.83,400.50 L86.03,400.50 Z" fill="none" stroke="#a8183c" stroke-width="1.2"/><path d="M97.42,394.00 L100.82,400.20 L94.02,400.20 Z" fill="none" stroke="#a8183c" stroke-width="1.2"/><path d="M105.41,395.80 L108.81,402.00 L102.01,402.00 Z" fill="none" stroke="#a8183c" stroke-width="1.2"/><path d="M113.39,394.00 L116.79,400.20 L109.99,400.20 Z" fill="none" stroke="#a8183c" stroke-width="1.2"/><path d="M121.38,391.80 L124.78,398.00 L117.98,398.00 Z" fill="none" stroke="#a8183c" stroke-width="1.2"/><path d="M133.36,391.70 L136.76,397.90 L129.96,397.90 Z" fill="none" stroke="#a8183c" stroke-width="1.2"/><path d="M149.34,390.30 L152.74,396.50 L145.94,396.50 Z" fill="none" stroke="#a8183c" stroke-width="1.2"/><path d="M165.31,388.80 L168.71,395.00 L161.91,395.00 Z" fill="none" stroke="#a8183c" stroke-width="1.2"/><path d="M189.28,376.60 L192.68,382.80 L185.88,382.80 Z" fill="none" stroke="#a8183c" stroke-width="1.2"/><path d="M245.19,394.70 L248.59,400.90 L241.79,400.90 Z" fill="none" stroke="#a8183c" stroke-width="1.2"/><path d="M325.06,397.80 L328.46,404.00 L321.66,404.00 Z" fill="none" stroke="#a8183c" stroke-width="1.2"/><path d="M57.48,396.60 L65.47,398.90 L73.46,401.30 L81.44,404.50 L89.43,408.50 L97.42,408.30 L105.41,408.00 L113.39,411.60 L121.38,414.20 L133.36,405.80 L149.34,413.60 L165.31,382.60 L189.28,411.20 L245.19,393.60 L325.06,374.20" fill="none" stroke="#0000ff" stroke-width="1"/><line x1="57.48" y1="395.74" x2="57.48" y2="397.47" stroke="#0000ff" stroke-width="1"/><line x1="55.98" y1="395.74" x2="58.98" y2="395.74" stroke="#0000ff" stroke-width="0.9"/><line x1="55.98" y1="397.47" x2="58.98" y2="397.47" stroke="#0000ff" stroke-width="0.9"/><line x1="65.47" y1="398.04" x2="65.47" y2="399.77" stroke="#0000ff" stroke-width="1"/><line x1="63.97" y1="398.04" x2="66.97" y2="398.04" stroke="#0000ff" stroke-width="0.9"/><line x1="63.97" y1="399.77" x2="66.97" y2="399.77" stroke="#0000ff" stroke-width="0.9"/><line x1="73.46" y1="400.44" x2="73.46" y2="402.17" stroke="#0000ff" stroke-width="1"/><line x1="71.96" y1="400.44" x2="74.96" y2="400.44" stroke="#0000ff" stroke-width="0.9"/><line x1="71.96" y1="402.17" x2="74.96" y2="402.17" stroke="#0000ff" stroke-width="0.9"/><line x1="81.44" y1="403.64" x2="81.44" y2="405.37" stroke="#0000ff" stroke-width="1"/><line x1="79.94" y1="403.64" x2="82.94" y2="403.64" stroke="#0000ff" stroke-width="0.9"/><line x1="79.94" y1="405.37" x2="82.94" y2="405.37" stroke="#0000ff" stroke-width="0.9"/><line x1="89.43" y1="407.21" x2="89.43" y2="409.81" stroke="#0000ff" stroke-width="1"/><line x1="87.93" y1="407.21" x2="90.93" y2="407.21" stroke="#0000ff" stroke-width="0.9"/><line x1="87.93" y1="409.81" x2="90.93" y2="409.81" stroke="#0000ff" stroke-width="0.9"/><line x1="97.42" y1="407.01" x2="97.42" y2="409.61" stroke="#0000ff" stroke-width="1"/><line x1="95.92" y1="407.01" x2="98.92" y2="407.01" stroke="#0000ff" stroke-width="0.9"/><line x1="95.92" y1="409.61" x2="98.92" y2="409.61" stroke="#0000ff" stroke-width="0.9"/><line x1="105.41" y1="406.28" x2="105.41" y2="409.75" stroke="#0000ff" stroke-width="1"/><line x1="103.91" y1="406.28" x2="106.91" y2="406.28" stroke="#0000ff" stroke-width="0.9"/><line x1="103.91" y1="409.75" x2="106.91" y2="409.75" stroke="#0000ff" stroke-width="0.9"/><line x1="113.39" y1="409.88" x2="113.39" y2="413.35" stroke="#0000ff" stroke-width="1"/><line x1="111.89" y1="409.88" x2="114.89" y2="409.88" stroke="#0000ff" stroke-width="0.9"/><line x1="111.89" y1="413.35" x2="114.89" y2="413.35" stroke="#0000ff" stroke-width="0.9"/><line x1="121.38" y1="411.64" x2="121.38" y2="416.84" stroke="#0000ff" stroke-width="1"/><line x1="119.88" y1="411.64" x2="122.88" y2="411.64" stroke="#0000ff" stroke-width="0.9"/><line x1="119.88" y1="416.84" x2="122.88" y2="416.84" stroke="#0000ff" stroke-width="0.9"/><line x1="133.36" y1="400.75" x2="133.36" y2="411.17" stroke="#0000ff" stroke-width="1"/><line x1="131.86" y1="400.75" x2="134.86" y2="400.75" stroke="#0000ff" stroke-width="0.9"/><line x1="131.86" y1="411.17" x2="134.86" y2="411.17" stroke="#0000ff" stroke-width="0.9"/><line x1="149.34" y1="404.55" x2="149.34" y2="423.71" stroke="#0000ff" stroke-width="1"/><line x1="147.84" y1="404.55" x2="150.84" y2="404.55" stroke="#0000ff" stroke-width="0.9"/><line x1="147.84" y1="423.71" x2="150.84" y2="423.71" stroke="#0000ff" stroke-width="0.9"/><line x1="165.31" y1="368.98" x2="165.31" y2="398.76" stroke="#0000ff" stroke-width="1"/><line x1="163.81" y1="368.98" x2="166.81" y2="368.98" stroke="#0000ff" stroke-width="0.9"/><line x1="163.81" y1="398.76" x2="166.81" y2="398.76" stroke="#0000ff" stroke-width="0.9"/><line x1="189.28" y1="399.08" x2="189.28" y2="425.30" stroke="#0000ff" stroke-width="1"/><line x1="187.78" y1="399.08" x2="190.78" y2="399.08" stroke="#0000ff" stroke-width="0.9"/><line x1="187.78" y1="425.30" x2="190.78" y2="425.30" stroke="#0000ff" stroke-width="0.9"/><line x1="245.19" y1="377.79" x2="245.19" y2="412.95" stroke="#0000ff" stroke-width="1"/><line x1="243.69" y1="377.79" x2="246.69" y2="377.79" stroke="#0000ff" stroke-width="0.9"/><line x1="243.69" y1="412.95" x2="246.69" y2="412.95" stroke="#0000ff" stroke-width="0.9"/><line x1="325.06" y1="328.18" x2="325.06" y2="478.00" stroke="#0000ff" stroke-width="1"/><line x1="323.56" y1="328.18" x2="326.56" y2="328.18" stroke="#0000ff" stroke-width="0.9"/><path d="M57.48,393.40 L60.48,399.10 L54.48,399.10 Z" fill="#0000ff"/><path d="M65.47,395.70 L68.47,401.40 L62.47,401.40 Z" fill="#0000ff"/><path d="M73.46,398.10 L76.46,403.80 L70.46,403.80 Z" fill="#0000ff"/><path d="M81.44,401.30 L84.44,407.00 L78.44,407.00 Z" fill="#0000ff"/><path d="M89.43,405.30 L92.43,411.00 L86.43,411.00 Z" fill="#0000ff"/><path d="M97.42,405.10 L100.42,410.80 L94.42,410.80 Z" fill="#0000ff"/><path d="M105.41,404.80 L108.41,410.50 L102.41,410.50 Z" fill="#0000ff"/><path d="M113.39,408.40 L116.39,414.10 L110.39,414.10 Z" fill="#0000ff"/><path d="M121.38,411.00 L124.38,416.70 L118.38,416.70 Z" fill="#0000ff"/><path d="M133.36,402.60 L136.36,408.30 L130.36,408.30 Z" fill="#0000ff"/><path d="M149.34,410.40 L152.34,416.10 L146.34,416.10 Z" fill="#0000ff"/><path d="M165.31,379.40 L168.31,385.10 L162.31,385.10 Z" fill="#0000ff"/><path d="M189.28,408.00 L192.28,413.70 L186.28,413.70 Z" fill="#0000ff"/><path d="M245.19,390.40 L248.19,396.10 L242.19,396.10 Z" fill="#0000ff"/><path d="M325.06,371.00 L328.06,376.70 L322.06,376.70 Z" fill="#0000ff"/><path d="M57.48,417.50 L65.47,443.50 L73.46,458.00 L81.44,460.90 L89.43,459.00 L97.42,454.40 L105.41,449.00 L113.39,444.60 L121.38,441.20 L133.36,435.50 L149.34,444.60 L165.31,429.70 L189.28,427.00 L245.19,461.70 L325.06,440.00" fill="none" stroke="#ff0000" stroke-width="1" stroke-dasharray="1.1,0.9"/><line x1="57.48" y1="416.64" x2="57.48" y2="418.37" stroke="#ff0000" stroke-width="1" stroke-dasharray="1.1,0.9"/><line x1="55.98" y1="416.64" x2="58.98" y2="416.64" stroke="#ff0000" stroke-width="0.9"/><line x1="55.98" y1="418.37" x2="58.98" y2="418.37" stroke="#ff0000" stroke-width="0.9"/><line x1="65.47" y1="442.64" x2="65.47" y2="444.37" stroke="#ff0000" stroke-width="1" stroke-dasharray="1.1,0.9"/><line x1="63.97" y1="442.64" x2="66.97" y2="442.64" stroke="#ff0000" stroke-width="0.9"/><line x1="63.97" y1="444.37" x2="66.97" y2="444.37" stroke="#ff0000" stroke-width="0.9"/><line x1="73.46" y1="457.14" x2="73.46" y2="458.87" stroke="#ff0000" stroke-width="1" stroke-dasharray="1.1,0.9"/><line x1="71.96" y1="457.14" x2="74.96" y2="457.14" stroke="#ff0000" stroke-width="0.9"/><line x1="71.96" y1="458.87" x2="74.96" y2="458.87" stroke="#ff0000" stroke-width="0.9"/><line x1="81.44" y1="460.04" x2="81.44" y2="461.77" stroke="#ff0000" stroke-width="1" stroke-dasharray="1.1,0.9"/><line x1="79.94" y1="460.04" x2="82.94" y2="460.04" stroke="#ff0000" stroke-width="0.9"/><line x1="79.94" y1="461.77" x2="82.94" y2="461.77" stroke="#ff0000" stroke-width="0.9"/><line x1="89.43" y1="457.71" x2="89.43" y2="460.31" stroke="#ff0000" stroke-width="1" stroke-dasharray="1.1,0.9"/><line x1="87.93" y1="457.71" x2="90.93" y2="457.71" stroke="#ff0000" stroke-width="0.9"/><line x1="87.93" y1="460.31" x2="90.93" y2="460.31" stroke="#ff0000" stroke-width="0.9"/><line x1="97.42" y1="453.11" x2="97.42" y2="455.71" stroke="#ff0000" stroke-width="1" stroke-dasharray="1.1,0.9"/><line x1="95.92" y1="453.11" x2="98.92" y2="453.11" stroke="#ff0000" stroke-width="0.9"/><line x1="95.92" y1="455.71" x2="98.92" y2="455.71" stroke="#ff0000" stroke-width="0.9"/><line x1="105.41" y1="447.28" x2="105.41" y2="450.75" stroke="#ff0000" stroke-width="1" stroke-dasharray="1.1,0.9"/><line x1="103.91" y1="447.28" x2="106.91" y2="447.28" stroke="#ff0000" stroke-width="0.9"/><line x1="103.91" y1="450.75" x2="106.91" y2="450.75" stroke="#ff0000" stroke-width="0.9"/><line x1="113.39" y1="442.88" x2="113.39" y2="446.35" stroke="#ff0000" stroke-width="1" stroke-dasharray="1.1,0.9"/><line x1="111.89" y1="442.88" x2="114.89" y2="442.88" stroke="#ff0000" stroke-width="0.9"/><line x1="111.89" y1="446.35" x2="114.89" y2="446.35" stroke="#ff0000" stroke-width="0.9"/><line x1="121.38" y1="438.64" x2="121.38" y2="443.84" stroke="#ff0000" stroke-width="1" stroke-dasharray="1.1,0.9"/><line x1="119.88" y1="438.64" x2="122.88" y2="438.64" stroke="#ff0000" stroke-width="0.9"/><line x1="119.88" y1="443.84" x2="122.88" y2="443.84" stroke="#ff0000" stroke-width="0.9"/><line x1="133.36" y1="432.94" x2="133.36" y2="438.14" stroke="#ff0000" stroke-width="1" stroke-dasharray="1.1,0.9"/><line x1="131.86" y1="432.94" x2="134.86" y2="432.94" stroke="#ff0000" stroke-width="0.9"/><line x1="131.86" y1="438.14" x2="134.86" y2="438.14" stroke="#ff0000" stroke-width="0.9"/><line x1="149.34" y1="441.62" x2="149.34" y2="447.69" stroke="#ff0000" stroke-width="1" stroke-dasharray="1.1,0.9"/><line x1="147.84" y1="441.62" x2="150.84" y2="441.62" stroke="#ff0000" stroke-width="0.9"/><line x1="147.84" y1="447.69" x2="150.84" y2="447.69" stroke="#ff0000" stroke-width="0.9"/><line x1="165.31" y1="423.03" x2="165.31" y2="436.93" stroke="#ff0000" stroke-width="1" stroke-dasharray="1.1,0.9"/><line x1="163.81" y1="423.03" x2="166.81" y2="423.03" stroke="#ff0000" stroke-width="0.9"/><line x1="163.81" y1="436.93" x2="166.81" y2="436.93" stroke="#ff0000" stroke-width="0.9"/><line x1="189.28" y1="414.13" x2="189.28" y2="442.12" stroke="#ff0000" stroke-width="1" stroke-dasharray="1.1,0.9"/><line x1="187.78" y1="414.13" x2="190.78" y2="414.13" stroke="#ff0000" stroke-width="0.9"/><line x1="187.78" y1="442.12" x2="190.78" y2="442.12" stroke="#ff0000" stroke-width="0.9"/><line x1="245.19" y1="453.43" x2="245.19" y2="470.84" stroke="#ff0000" stroke-width="1" stroke-dasharray="1.1,0.9"/><line x1="243.69" y1="453.43" x2="246.69" y2="453.43" stroke="#ff0000" stroke-width="0.9"/><line x1="243.69" y1="470.84" x2="246.69" y2="470.84" stroke="#ff0000" stroke-width="0.9"/><line x1="325.06" y1="427.88" x2="325.06" y2="454.10" stroke="#ff0000" stroke-width="1" stroke-dasharray="1.1,0.9"/><line x1="323.56" y1="427.88" x2="326.56" y2="427.88" stroke="#ff0000" stroke-width="0.9"/><line x1="323.56" y1="454.10" x2="326.56" y2="454.10" stroke="#ff0000" stroke-width="0.9"/><path d="M57.48,414.10 L59.78,417.50 L57.48,420.90 L55.18,417.50 Z" fill="#ff0000"/><path d="M65.47,440.10 L67.77,443.50 L65.47,446.90 L63.17,443.50 Z" fill="#ff0000"/><path d="M73.46,454.60 L75.76,458.00 L73.46,461.40 L71.16,458.00 Z" fill="#ff0000"/><path d="M81.44,457.50 L83.74,460.90 L81.44,464.30 L79.14,460.90 Z" fill="#ff0000"/><path d="M89.43,455.60 L91.73,459.00 L89.43,462.40 L87.13,459.00 Z" fill="#ff0000"/><path d="M97.42,451.00 L99.72,454.40 L97.42,457.80 L95.12,454.40 Z" fill="#ff0000"/><path d="M105.41,445.60 L107.71,449.00 L105.41,452.40 L103.11,449.00 Z" fill="#ff0000"/><path d="M113.39,441.20 L115.69,444.60 L113.39,448.00 L111.09,444.60 Z" fill="#ff0000"/><path d="M121.38,437.80 L123.68,441.20 L121.38,444.60 L119.08,441.20 Z" fill="#ff0000"/><path d="M133.36,432.10 L135.66,435.50 L133.36,438.90 L131.06,435.50 Z" fill="#ff0000"/><path d="M149.34,441.20 L151.64,444.60 L149.34,448.00 L147.04,444.60 Z" fill="#ff0000"/><path d="M165.31,426.30 L167.61,429.70 L165.31,433.10 L163.01,429.70 Z" fill="#ff0000"/><path d="M189.28,423.60 L191.58,427.00 L189.28,430.40 L186.97,427.00 Z" fill="#ff0000"/><path d="M245.19,458.30 L247.49,461.70 L245.19,465.10 L242.89,461.70 Z" fill="#ff0000"/><path d="M325.06,436.60 L327.36,440.00 L325.06,443.40 L322.76,440.00 Z" fill="#ff0000"/></g><rect x="45.5" y="17.5" width="325.9" height="300.0" fill="none" stroke="#000" stroke-width="1.2"/><rect x="45.5" y="317.5" width="325.9" height="160.5" fill="none" stroke="#000" stroke-width="1.2"/><path d="M45.50,17.5V25.50M45.50,317.5V309.50M45.50,317.5V325.50M45.50,478V470.00M53.49,17.5V20.00M53.49,317.5V315.00M53.49,317.5V320.00M53.49,478V475.50M61.48,17.5V21.50M61.48,317.5V313.50M61.48,317.5V321.50M61.48,478V474.00M69.46,17.5V20.00M69.46,317.5V315.00M69.46,317.5V320.00M69.46,478V475.50M77.45,17.5V21.50M77.45,317.5V313.50M77.45,317.5V321.50M77.45,478V474.00M85.44,17.5V20.00M85.44,317.5V315.00M85.44,317.5V320.00M85.44,478V475.50M93.42,17.5V21.50M93.42,317.5V313.50M93.42,317.5V321.50M93.42,478V474.00M101.41,17.5V20.00M101.41,317.5V315.00M101.41,317.5V320.00M101.41,478V475.50M109.40,17.5V21.50M109.40,317.5V313.50M109.40,317.5V321.50M109.40,478V474.00M117.39,17.5V20.00M117.39,317.5V315.00M117.39,317.5V320.00M117.39,478V475.50M125.38,17.5V25.50M125.38,317.5V309.50M125.38,317.5V325.50M125.38,478V470.00M133.36,17.5V20.00M133.36,317.5V315.00M133.36,317.5V320.00M133.36,478V475.50M141.35,17.5V21.50M141.35,317.5V313.50M141.35,317.5V321.50M141.35,478V474.00M149.34,17.5V20.00M149.34,317.5V315.00M149.34,317.5V320.00M149.34,478V475.50M157.32,17.5V21.50M157.32,317.5V313.50M157.32,317.5V321.50M157.32,478V474.00M165.31,17.5V20.00M165.31,317.5V315.00M165.31,317.5V320.00M165.31,478V475.50M173.30,17.5V21.50M173.30,317.5V313.50M173.30,317.5V321.50M173.30,478V474.00M181.29,17.5V20.00M181.29,317.5V315.00M181.29,317.5V320.00M181.29,478V475.50M189.28,17.5V21.50M189.28,317.5V313.50M189.28,317.5V321.50M189.28,478V474.00M197.26,17.5V20.00M197.26,317.5V315.00M197.26,317.5V320.00M197.26,478V475.50M205.25,17.5V25.50M205.25,317.5V309.50M205.25,317.5V325.50M205.25,478V470.00M213.24,17.5V20.00M213.24,317.5V315.00M213.24,317.5V320.00M213.24,478V475.50M221.22,17.5V21.50M221.22,317.5V313.50M221.22,317.5V321.50M221.22,478V474.00M229.21,17.5V20.00M229.21,317.5V315.00M229.21,317.5V320.00M229.21,478V475.50M237.20,17.5V21.50M237.20,317.5V313.50M237.20,317.5V321.50M237.20,478V474.00M245.19,17.5V20.00M245.19,317.5V315.00M245.19,317.5V320.00M245.19,478V475.50M253.17,17.5V21.50M253.17,317.5V313.50M253.17,317.5V321.50M253.17,478V474.00M261.16,17.5V20.00M261.16,317.5V315.00M261.16,317.5V320.00M261.16,478V475.50M269.15,17.5V21.50M269.15,317.5V313.50M269.15,317.5V321.50M269.15,478V474.00M277.14,17.5V20.00M277.14,317.5V315.00M277.14,317.5V320.00M277.14,478V475.50M285.12,17.5V25.50M285.12,317.5V309.50M285.12,317.5V325.50M285.12,478V470.00M293.11,17.5V20.00M293.11,317.5V315.00M293.11,317.5V320.00M293.11,478V475.50M301.10,17.5V21.50M301.10,317.5V313.50M301.10,317.5V321.50M301.10,478V474.00M309.09,17.5V20.00M309.09,317.5V315.00M309.09,317.5V320.00M309.09,478V475.50M317.07,17.5V21.50M317.07,317.5V313.50M317.07,317.5V321.50M317.07,478V474.00M325.06,17.5V20.00M325.06,317.5V315.00M325.06,317.5V320.00M325.06,478V475.50M333.05,17.5V21.50M333.05,317.5V313.50M333.05,317.5V321.50M333.05,478V474.00M341.04,17.5V20.00M341.04,317.5V315.00M341.04,317.5V320.00M341.04,478V475.50M349.02,17.5V21.50M349.02,317.5V313.50M349.02,317.5V321.50M349.02,478V474.00M357.01,17.5V20.00M357.01,317.5V315.00M357.01,317.5V320.00M357.01,478V475.50M365.00,17.5V25.50M365.00,317.5V309.50M365.00,317.5V325.50M365.00,478V470.00M45.5,313.12H51.5M371.4,313.12H365.4M45.5,300.43H51.5M371.4,300.43H365.4M45.5,290.58H51.5M371.4,290.58H365.4M45.5,282.54H51.5M371.4,282.54H365.4M45.5,275.74H51.5M371.4,275.74H365.4M45.5,269.85H51.5M371.4,269.85H365.4M45.5,264.65H51.5M371.4,264.65H365.4M45.5,260.00H56.5M371.4,260.00H360.4M45.5,229.42H51.5M371.4,229.42H365.4M45.5,211.52H51.5M371.4,211.52H365.4M45.5,198.83H51.5M371.4,198.83H365.4M45.5,188.98H51.5M371.4,188.98H365.4M45.5,180.94H51.5M371.4,180.94H365.4M45.5,174.14H51.5M371.4,174.14H365.4M45.5,168.25H51.5M371.4,168.25H365.4M45.5,163.05H51.5M371.4,163.05H365.4M45.5,158.40H56.5M371.4,158.40H360.4M45.5,127.82H51.5M371.4,127.82H365.4M45.5,109.92H51.5M371.4,109.92H365.4M45.5,97.23H51.5M371.4,97.23H365.4M45.5,87.38H51.5M371.4,87.38H365.4M45.5,79.34H51.5M371.4,79.34H365.4M45.5,72.54H51.5M371.4,72.54H365.4M45.5,66.65H51.5M371.4,66.65H365.4M45.5,61.45H51.5M371.4,61.45H365.4M45.5,56.80H56.5M371.4,56.80H360.4M45.5,26.22H51.5M371.4,26.22H365.4M45.5,477.27H50.5M371.4,477.27H366.4M45.5,457.92H53.0M371.4,457.92H363.9M45.5,442.10H50.5M371.4,442.10H366.4M45.5,428.73H50.5M371.4,428.73H366.4M45.5,417.15H50.5M371.4,417.15H366.4M45.5,406.94H50.5M371.4,406.94H366.4M45.5,397.80H53.0M371.4,397.80H363.9M45.5,389.53H50.5M371.4,389.53H366.4M45.5,381.99H50.5M371.4,381.99H366.4M45.5,375.05H50.5M371.4,375.05H366.4M45.5,368.62H50.5M371.4,368.62H366.4M45.5,362.63H53.0M371.4,362.63H363.9M45.5,357.04H50.5M371.4,357.04H366.4M45.5,351.78H50.5M371.4,351.78H366.4M45.5,346.82H50.5M371.4,346.82H366.4M45.5,342.13H50.5M371.4,342.13H366.4M45.5,337.68H53.0M371.4,337.68H363.9M45.5,333.45H50.5M371.4,333.45H366.4M45.5,329.42H50.5M371.4,329.42H366.4M45.5,325.56H50.5M371.4,325.56H366.4M45.5,321.87H50.5M371.4,321.87H366.4M45.5,318.33H50.5M371.4,318.33H366.4" stroke="#000" stroke-width="1.1" fill="none"/><text x="45.50" y="489.5" font-size="12" text-anchor="middle" fill="#000">0</text><text x="125.38" y="489.5" font-size="12" text-anchor="middle" fill="#000">5</text><text x="205.25" y="489.5" font-size="12" text-anchor="middle" fill="#000">10</text><text x="285.12" y="489.5" font-size="12" text-anchor="middle" fill="#000">15</text><text x="365.00" y="489.5" font-size="12" text-anchor="middle" fill="#000">20</text><text x="40.3" y="62" font-size="12" text-anchor="end" fill="#000">10</text><text x="40.2" y="163.5" font-size="12" text-anchor="end" fill="#000">1</text><text x="32.2" y="265.8" font-size="11.2" text-anchor="end">10</text><text x="32.8" y="260.5" font-size="7.6">&#8722;1</text><text x="38.5" y="341.2" font-size="12" text-anchor="end" fill="#000">2</text><text x="38.5" y="402" font-size="12" text-anchor="end" fill="#000">1</text><text x="38.6" y="462.9" font-size="12" text-anchor="end" fill="#000">0.5</text><text x="374" y="341.2" font-size="10.5" text-anchor="start" fill="#000">2</text><text x="374" y="402" font-size="10.5" text-anchor="start" fill="#000">1</text><text x="374" y="462.3" font-size="10.5" text-anchor="start" fill="#000">0.5</text><text x="50.9" y="15" font-size="12.25" text-anchor="start" fill="#000">900 GeV ppbar</text><text x="367.4" y="14.6" font-size="12.25" text-anchor="end" fill="#000">Underlying Event</text><g font-size="12"><text x="80" y="43.3">{TransDIF charged p</text><text x="190.5" y="34.8" font-size="7.3">|sum</text><text x="204.8" y="43.3">}</text><text x="209.6" y="48.2" font-size="7.5">T</text><text x="218.4" y="43.3">density</text><path d="M260.4,35.4 L262.5,42.3" fill="none" stroke="#000" stroke-width="1.3"/><path d="M262.5,42.3 L263.4,32.3 H271" fill="none" stroke="#000" stroke-width="0.85"/><text x="264.6" y="43.3">s</text><text x="270" y="43.3" textLength="7.5" lengthAdjust="spacingAndGlyphs">=</text><text x="277.4" y="43.3">900 {GeV}}</text></g><rect x="73.50" y="59.00" width="6" height="6" fill="#000"/><text x="94" y="65.80" font-size="10.2" textLength="17.9" lengthAdjust="spacingAndGlyphs">CDF</text><line x1="64" y1="75.10" x2="89" y2="75.10" stroke="#ff8a8a" stroke-width="1"/><circle cx="76.50" cy="75.10" r="2.3" fill="none" stroke="#ff8a8a" stroke-width="1.3"/><text x="94" y="78.90" font-size="10.2" textLength="94.2" lengthAdjust="spacingAndGlyphs">Epos 1.99.crmc.1.2 lhc</text><line x1="64" y1="88.20" x2="89" y2="88.20" stroke="#36981e" stroke-width="1" stroke-dasharray="2.8,1.9"/><rect x="73.50" y="85.20" width="6" height="6" fill="none" stroke="#36981e" stroke-width="1.2"/><text x="94" y="92.00" font-size="10.2" textLength="83.7" lengthAdjust="spacingAndGlyphs">Herwig 7.2.1 default</text><line x1="64" y1="101.30" x2="89" y2="101.30" stroke="#a8183c" stroke-width="1"/><path d="M76.50,97.70 L79.90,103.90 L73.10,103.90 Z" fill="none" stroke="#a8183c" stroke-width="1.2"/><text x="94" y="105.10" font-size="10.2" textLength="70.4" lengthAdjust="spacingAndGlyphs">Pythia 6.428 370</text><line x1="64" y1="114.40" x2="89" y2="114.40" stroke="#0000ff" stroke-width="1"/><path d="M76.50,111.20 L79.50,116.90 L73.50,116.90 Z" fill="#0000ff"/><text x="94" y="118.20" font-size="10.2" textLength="83.7" lengthAdjust="spacingAndGlyphs">Pythia 8.315 default</text><line x1="64" y1="127.50" x2="89" y2="127.50" stroke="#ff0000" stroke-width="1" stroke-dasharray="1.1,0.9"/><path d="M76.50,124.10 L78.80,127.50 L76.50,130.90 L74.20,127.50 Z" fill="#ff0000"/><text x="94" y="131.30" font-size="10.2" textLength="84.4" lengthAdjust="spacingAndGlyphs">Sherpa 2.2.9 default</text><text x="167.8" y="303.1" font-size="8.6" fill="#a6a6a6" textLength="80.8" lengthAdjust="spacingAndGlyphs">(CDF_2015_I1388868)</text><text transform="translate(380,127) rotate(-90)" font-size="9.3" fill="#808080">Rivet 4.1.0, &#8805; 600k events</text><text transform="translate(380,314) rotate(-90)" font-size="9.5" fill="#808080">mcplots.cern.ch [arXiv:2401.10621]</text><text transform="translate(20.2,421.9) rotate(-90)" font-size="9.2" textLength="50.3" lengthAdjust="spacingAndGlyphs">Ratio to CDF</text><g transform="rotate(-90)" font-size="11.5"><text x="-187.6" y="14.8" font-size="12.6">{</text><text x="-180.9" y="14.8" font-size="12.6">(</text><text x="-174" y="13.5">1/N</text><text x="-155.6" y="19.4" font-size="7.3" textLength="17.6" lengthAdjust="spacingAndGlyphs">events</text><text x="-138.4" y="14.8" font-size="12.6">)</text><text x="-130.6" y="13.5">dp</text><text x="-119" y="5" font-size="7.3">|sum</text><text x="-99.4" y="13.5">}</text><text x="-96.4" y="19.4" font-size="7.3">T</text><text x="-89.2" y="13.5" textLength="72.5" lengthAdjust="spacing">/d&#951; d&#981; [GeV]}</text></g><g font-size="12.2"><text x="299.8" y="506">{p</text><text x="311" y="495.6" font-size="8">|max</text><text x="311.8" y="510.8" font-size="8.3">T</text><text x="328.3" y="506">}</text><text x="335.4" y="506" textLength="37" lengthAdjust="spacing">[GeV]}</text></g></svg></body></html>
